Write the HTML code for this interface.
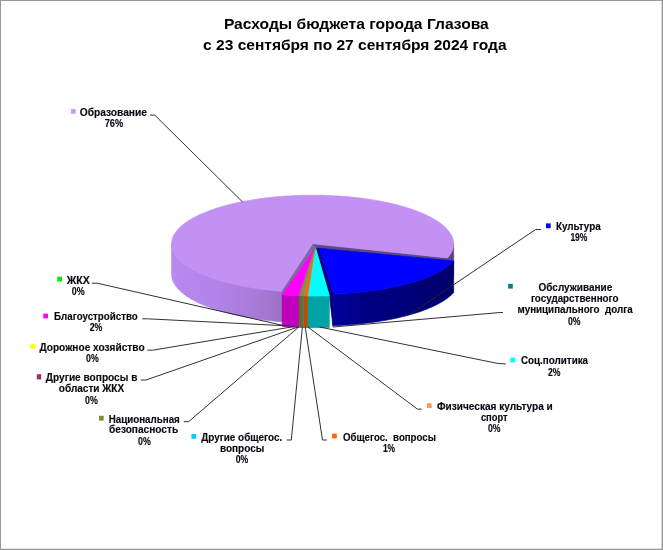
<!DOCTYPE html>
<html lang="ru"><head><meta charset="utf-8"><title>Расходы бюджета города Глазова</title>
<style>
html,body{margin:0;padding:0;background:#fff;}
body{width:663px;height:550px;overflow:hidden;font-family:"Liberation Sans",sans-serif;}
svg{display:block;}
.t{font-family:"Liberation Sans",sans-serif;font-weight:bold;font-size:14.4px;fill:#000;}
.l text{font-family:"Liberation Sans",sans-serif;font-weight:bold;font-size:10px;fill:#0a0a14;stroke:#0a0a14;stroke-width:0.15px;}
.pie path{stroke-width:0.7;stroke-linejoin:round;}
.ld polyline{fill:none;stroke:#262626;stroke-width:0.95;}
</style></head><body>
<svg width="663" height="550" viewBox="0 0 663 550">
<defs>
<linearGradient id="gpw" gradientUnits="userSpaceOnUse" x1="171" y1="0" x2="283" y2="0">
<stop offset="0" stop-color="#b88af0"/><stop offset="0.35" stop-color="#b385ea"/><stop offset="0.75" stop-color="#a87bd8"/><stop offset="1" stop-color="#9c70c4"/>
</linearGradient>
<linearGradient id="gbw" gradientUnits="userSpaceOnUse" x1="330" y1="0" x2="454" y2="0">
<stop offset="0" stop-color="#00009c"/><stop offset="0.3" stop-color="#000084"/><stop offset="1" stop-color="#00006c"/>
</linearGradient>
</defs>
<rect width="663" height="550" fill="#fff"/>
<path d="M0,0H663V550H0Z M1,1V548.7H661.6V1Z" fill="#989898" fill-rule="evenodd"/>
<text class="t" x="223.9" y="28.7" textLength="264.9" lengthAdjust="spacingAndGlyphs">Расходы бюджета города Глазова</text>
<text class="t" x="203.1" y="49.8" textLength="303.5" lengthAdjust="spacingAndGlyphs">с 23 сентября по 27 сентября 2024 года</text>
<g class="pie">
<path d="M312.50,243.80 L320.00,247.20 L316.00,249.50 L313.00,251.00Z" fill="#6a5890" stroke="#6a5890"/>
<path d="M312.50,243.80 L281.36,291.19 L281.36,321.69 L283.00,321.69 L283.00,294.50 L314.20,250.60 L316.00,248.60Z" fill="#7d6a9c" stroke="#7d6a9c"/>
<path d="M312.50,243.80 L447.51,257.93 L454.00,261.50 L319.40,248.50Z" fill="#5e4a80" stroke="#5e4a80"/>
<path d="M281.36,291.19 L278.28,290.94 L275.22,290.66 L272.18,290.36 L269.15,290.04 L266.15,289.69 L263.17,289.32 L260.22,288.92 L257.30,288.51 L254.40,288.07 L251.53,287.60 L248.69,287.12 L245.88,286.62 L243.11,286.09 L240.37,285.54 L237.67,284.97 L235.01,284.38 L232.39,283.77 L229.80,283.14 L227.26,282.49 L224.76,281.82 L222.31,281.13 L219.90,280.42 L217.54,279.69 L215.22,278.95 L212.96,278.19 L210.74,277.41 L208.58,276.61 L206.47,275.80 L204.41,274.97 L202.41,274.12 L200.46,273.26 L198.57,272.38 L196.73,271.49 L194.96,270.59 L193.24,269.67 L191.59,268.74 L189.99,267.80 L188.46,266.85 L186.99,265.88 L185.58,264.90 L184.24,263.91 L182.96,262.91 L181.75,261.91 L180.60,260.89 L179.52,259.86 L178.51,258.83 L177.57,257.79 L176.69,256.74 L175.88,255.68 L175.14,254.62 L174.47,253.56 L173.87,252.48 L173.34,251.41 L172.88,250.33 L172.49,249.25 L172.17,248.16 L171.92,247.07 L171.74,245.98 L171.64,244.89 L171.60,243.80 L171.60,274.30 L171.64,275.39 L171.74,276.48 L171.92,277.57 L172.17,278.66 L172.49,279.75 L172.88,280.83 L173.34,281.91 L173.87,282.98 L174.47,284.06 L175.14,285.12 L175.88,286.18 L176.69,287.24 L177.57,288.29 L178.51,289.33 L179.52,290.36 L180.60,291.39 L181.75,292.41 L182.96,293.41 L184.24,294.41 L185.58,295.40 L186.99,296.38 L188.46,297.35 L189.99,298.30 L191.59,299.24 L193.24,300.17 L194.96,301.09 L196.73,301.99 L198.57,302.88 L200.46,303.76 L202.41,304.62 L204.41,305.47 L206.47,306.30 L208.58,307.11 L210.74,307.91 L212.96,308.69 L215.22,309.45 L217.54,310.19 L219.90,310.92 L222.31,311.63 L224.76,312.32 L227.26,312.99 L229.80,313.64 L232.39,314.27 L235.01,314.88 L237.67,315.47 L240.37,316.04 L243.11,316.59 L245.88,317.12 L248.69,317.62 L251.53,318.10 L254.40,318.57 L257.30,319.01 L260.22,319.42 L263.17,319.82 L266.15,320.19 L269.15,320.54 L272.18,320.86 L275.22,321.16 L278.28,321.44 L281.36,321.69Z" fill="url(#gpw)" stroke="url(#gpw)"/>
<path d="M453.60,243.80 L453.58,244.52 L453.54,245.23 L453.46,245.95 L453.35,246.67 L453.22,247.38 L453.05,248.09 L452.85,248.81 L452.62,249.52 L452.36,250.23 L452.07,250.94 L451.75,251.65 L451.40,252.36 L451.02,253.06 L450.61,253.76 L450.16,254.46 L449.69,255.16 L449.19,255.86 L448.66,256.55 L448.10,257.24 L447.51,257.93 L447.51,288.43 L448.10,287.74 L448.66,287.05 L449.19,286.36 L449.69,285.66 L450.16,284.96 L450.61,284.26 L451.02,283.56 L451.40,282.86 L451.75,282.15 L452.07,281.44 L452.36,280.73 L452.62,280.02 L452.85,279.31 L453.05,278.59 L453.22,277.88 L453.35,277.17 L453.46,276.45 L453.54,275.73 L453.58,275.02 L453.60,274.30 L453.70,261.00Z" fill="#5a4678" stroke="#5a4678"/>
<path d="M312.50,243.80 L281.36,291.19 L278.08,290.92 L274.82,290.62 L271.58,290.30 L268.37,289.95 L265.18,289.57 L262.02,289.17 L258.88,288.74 L255.78,288.28 L252.71,287.80 L249.68,287.29 L246.68,286.76 L243.71,286.20 L240.79,285.62 L237.91,285.02 L235.07,284.39 L232.27,283.74 L229.53,283.07 L226.83,282.37 L224.17,281.65 L221.57,280.92 L219.02,280.15 L216.53,279.37 L214.09,278.57 L211.70,277.75 L209.37,276.91 L207.11,276.05 L204.90,275.17 L202.75,274.27 L200.67,273.36 L198.65,272.42 L196.70,271.48 L194.81,270.51 L192.99,269.54 L191.24,268.54 L189.56,267.53 L187.95,266.51 L186.40,265.48 L184.94,264.43 L183.54,263.37 L182.22,262.30 L180.97,261.22 L179.80,260.13 L178.71,259.03 L177.69,257.93 L176.75,256.81 L175.88,255.69 L175.10,254.56 L174.39,253.42 L173.76,252.28 L173.21,251.13 L172.74,249.98 L172.36,248.82 L172.05,247.67 L171.82,246.51 L171.67,245.35 L171.60,244.18 L171.62,243.02 L171.71,241.86 L171.89,240.70 L172.14,239.54 L172.48,238.38 L172.89,237.23 L173.39,236.08 L173.97,234.93 L174.62,233.79 L175.36,232.66 L176.17,231.53 L177.06,230.41 L178.03,229.30 L179.07,228.19 L180.19,227.09 L181.39,226.01 L182.66,224.93 L184.01,223.86 L185.43,222.81 L186.92,221.77 L188.49,220.74 L190.12,219.72 L191.83,218.72 L193.60,217.73 L195.45,216.76 L197.36,215.80 L199.33,214.86 L201.37,213.93 L203.48,213.02 L205.64,212.13 L207.87,211.26 L210.16,210.41 L212.51,209.57 L214.91,208.75 L217.37,207.96 L219.88,207.18 L222.45,206.43 L225.07,205.70 L227.74,204.99 L230.46,204.30 L233.22,203.63 L236.03,202.99 L238.88,202.37 L241.78,201.77 L244.72,201.20 L247.69,200.66 L250.70,200.13 L253.75,199.64 L256.83,199.16 L259.95,198.72 L263.09,198.29 L266.26,197.90 L269.46,197.53 L272.68,197.19 L275.93,196.87 L279.20,196.58 L282.48,196.32 L285.79,196.09 L289.10,195.88 L292.44,195.70 L295.78,195.55 L299.13,195.42 L302.49,195.33 L305.86,195.26 L309.23,195.21 L312.60,195.20 L315.97,195.21 L319.35,195.26 L322.71,195.33 L326.07,195.42 L329.43,195.55 L332.77,195.70 L336.10,195.88 L339.42,196.09 L342.72,196.32 L346.01,196.58 L349.28,196.87 L352.52,197.19 L355.74,197.53 L358.94,197.90 L362.11,198.30 L365.26,198.72 L368.37,199.16 L371.45,199.64 L374.50,200.13 L377.51,200.66 L380.49,201.20 L383.42,201.78 L386.32,202.37 L389.17,202.99 L391.98,203.63 L394.75,204.30 L397.46,204.99 L400.13,205.70 L402.75,206.43 L405.32,207.19 L407.83,207.96 L410.29,208.76 L412.70,209.57 L415.04,210.41 L417.33,211.26 L419.56,212.13 L421.73,213.02 L423.83,213.93 L425.87,214.86 L427.85,215.80 L429.76,216.76 L431.60,217.73 L433.37,218.72 L435.08,219.72 L436.72,220.74 L438.28,221.77 L439.77,222.81 L441.19,223.87 L442.54,224.93 L443.81,226.01 L445.01,227.10 L446.13,228.19 L447.18,229.30 L448.14,230.41 L449.03,231.53 L449.85,232.66 L450.58,233.79 L451.23,234.94 L451.81,236.08 L452.31,237.23 L452.72,238.38 L453.06,239.54 L453.31,240.70 L453.49,241.86 L453.58,243.02 L453.60,244.19 L453.53,245.35 L453.38,246.51 L453.15,247.67 L452.84,248.83 L452.46,249.98 L451.99,251.13 L451.44,252.28 L450.81,253.42 L450.10,254.56 L449.32,255.69 L448.45,256.81 L447.51,257.93Z" fill="#c291f3" stroke="#c291f3"/>
<path d="M319.20,248.30 L333.36,293.94 L333.66,325.64 L332.90,326.40 L329.50,296.00 L315.90,248.30Z" fill="#000078" stroke="#000078"/>
<path d="M453.63,260.94 L453.01,261.60 L452.37,262.25 L451.69,262.90 L450.99,263.54 L450.26,264.19 L449.50,264.83 L448.71,265.46 L447.89,266.09 L447.05,266.72 L446.18,267.34 L445.28,267.96 L444.35,268.57 L443.40,269.18 L442.42,269.79 L441.42,270.39 L440.39,270.98 L439.33,271.57 L438.25,272.16 L437.14,272.74 L436.00,273.31 L434.84,273.88 L433.66,274.44 L432.45,275.00 L431.22,275.55 L429.96,276.10 L428.68,276.63 L427.38,277.17 L426.05,277.69 L424.70,278.21 L423.33,278.73 L421.93,279.23 L420.51,279.73 L419.07,280.22 L417.61,280.71 L416.13,281.19 L414.63,281.66 L413.10,282.12 L411.56,282.58 L410.00,283.03 L408.41,283.47 L406.81,283.90 L405.19,284.32 L403.55,284.74 L401.89,285.15 L400.22,285.55 L398.53,285.95 L396.82,286.33 L395.09,286.71 L393.35,287.07 L391.59,287.43 L389.81,287.78 L388.02,288.13 L386.22,288.46 L384.40,288.78 L382.57,289.10 L380.72,289.41 L378.86,289.71 L376.99,289.99 L375.10,290.27 L373.20,290.54 L371.29,290.80 L369.37,291.06 L367.44,291.30 L365.50,291.53 L363.55,291.75 L361.59,291.97 L359.62,292.17 L357.64,292.37 L355.65,292.55 L353.66,292.73 L351.65,292.89 L349.64,293.05 L347.63,293.20 L345.60,293.33 L343.57,293.46 L341.54,293.58 L339.50,293.68 L337.46,293.78 L335.41,293.87 L333.36,293.94 L333.36,325.64 L335.41,325.57 L337.46,325.48 L339.50,325.38 L341.54,325.28 L343.57,325.16 L345.60,325.03 L347.63,324.90 L349.64,324.75 L351.65,324.59 L353.66,324.43 L355.65,324.25 L357.64,324.07 L359.62,323.87 L361.59,323.67 L363.55,323.45 L365.50,323.23 L367.44,323.00 L369.37,322.76 L371.29,322.50 L373.20,322.24 L375.10,321.97 L376.99,321.69 L378.86,321.41 L380.72,321.11 L382.57,320.80 L384.40,320.48 L386.22,320.16 L388.02,319.83 L389.81,319.48 L391.59,319.13 L393.35,318.77 L395.09,318.41 L396.82,318.03 L398.53,317.65 L400.22,317.25 L401.89,316.85 L403.55,316.44 L405.19,316.02 L406.81,315.60 L408.41,315.17 L410.00,314.73 L411.56,314.28 L413.10,313.82 L414.63,313.36 L416.13,312.89 L417.61,312.41 L419.07,311.92 L420.51,311.43 L421.93,310.93 L423.33,310.43 L424.70,309.91 L426.05,309.39 L427.38,308.87 L428.68,308.33 L429.96,307.80 L431.22,307.25 L432.45,306.70 L433.66,306.14 L434.84,305.58 L436.00,305.01 L437.14,304.44 L438.25,303.86 L439.33,303.27 L440.39,302.68 L441.42,302.09 L442.42,301.49 L443.40,300.88 L444.35,300.27 L445.28,299.66 L446.18,299.04 L447.05,298.42 L447.89,297.79 L448.71,297.16 L449.50,296.53 L450.26,295.89 L450.99,295.24 L451.69,294.60 L452.37,293.95 L453.01,293.30 L453.63,292.64Z" fill="url(#gbw)" stroke="url(#gbw)"/>
<path d="M319.20,248.30 L453.63,260.94 L453.01,261.60 L452.37,262.25 L451.69,262.90 L450.99,263.54 L450.26,264.19 L449.50,264.83 L448.71,265.46 L447.89,266.09 L447.05,266.72 L446.18,267.34 L445.28,267.96 L444.35,268.57 L443.40,269.18 L442.42,269.79 L441.42,270.39 L440.39,270.98 L439.33,271.57 L438.25,272.16 L437.14,272.74 L436.00,273.31 L434.84,273.88 L433.66,274.44 L432.45,275.00 L431.22,275.55 L429.96,276.10 L428.68,276.63 L427.38,277.17 L426.05,277.69 L424.70,278.21 L423.33,278.73 L421.93,279.23 L420.51,279.73 L419.07,280.22 L417.61,280.71 L416.13,281.19 L414.63,281.66 L413.10,282.12 L411.56,282.58 L410.00,283.03 L408.41,283.47 L406.81,283.90 L405.19,284.32 L403.55,284.74 L401.89,285.15 L400.22,285.55 L398.53,285.95 L396.82,286.33 L395.09,286.71 L393.35,287.07 L391.59,287.43 L389.81,287.78 L388.02,288.13 L386.22,288.46 L384.40,288.78 L382.57,289.10 L380.72,289.41 L378.86,289.71 L376.99,289.99 L375.10,290.27 L373.20,290.54 L371.29,290.80 L369.37,291.06 L367.44,291.30 L365.50,291.53 L363.55,291.75 L361.59,291.97 L359.62,292.17 L357.64,292.37 L355.65,292.55 L353.66,292.73 L351.65,292.89 L349.64,293.05 L347.63,293.20 L345.60,293.33 L343.57,293.46 L341.54,293.58 L339.50,293.68 L337.46,293.78 L335.41,293.87 L333.36,293.94Z" fill="#0000fe" stroke="#0000fe"/>
<path d="M329.30,295.76 L327.49,295.81 L325.68,295.86 L323.86,295.91 L322.05,295.94 L320.23,295.97 L318.41,295.99 L316.59,296.00 L314.77,296.00 L312.95,296.00 L311.13,295.98 L309.32,295.96 L307.50,295.93 L307.50,327.63 L309.32,327.66 L311.13,327.68 L312.95,327.70 L314.77,327.70 L316.59,327.70 L318.41,327.69 L320.23,327.67 L322.05,327.64 L323.86,327.61 L325.68,327.56 L327.49,327.51 L329.30,327.46Z" fill="#00a3a3" stroke="#00a3a3"/>
<path d="M315.70,248.30 L329.30,295.76 L327.49,295.81 L325.68,295.86 L323.86,295.91 L322.05,295.94 L320.23,295.97 L318.41,295.99 L316.59,296.00 L314.77,296.00 L312.95,296.00 L311.13,295.98 L309.32,295.96 L307.50,295.93Z" fill="#00ffff" stroke="#00ffff"/>
<path d="M307.50,295.93 L307.18,295.93 L306.87,295.92 L306.55,295.91 L306.23,295.91 L305.92,295.90 L305.60,295.89 L305.28,295.89 L304.97,295.88 L304.65,295.87 L304.33,295.86 L304.02,295.86 L303.70,295.85 L303.70,327.55 L304.02,327.56 L304.33,327.56 L304.65,327.57 L304.97,327.58 L305.28,327.59 L305.60,327.59 L305.92,327.60 L306.23,327.61 L306.55,327.61 L306.87,327.62 L307.18,327.63 L307.50,327.63Z" fill="#bf4d00" stroke="#bf4d00"/>
<path d="M315.00,249.20 L307.50,295.93 L307.18,295.93 L306.87,295.92 L306.55,295.91 L306.23,295.91 L305.92,295.90 L305.60,295.89 L305.28,295.89 L304.97,295.88 L304.65,295.87 L304.33,295.86 L304.02,295.86 L303.70,295.85Z" fill="#ff6600" stroke="#ff6600"/>
<path d="M303.70,295.85 L303.48,295.84 L303.27,295.84 L303.05,295.83 L302.83,295.82 L302.62,295.82 L302.40,295.81 L302.18,295.80 L301.97,295.80 L301.75,295.79 L301.53,295.78 L301.32,295.78 L301.10,295.77 L301.10,327.47 L301.32,327.48 L301.53,327.48 L301.75,327.49 L301.97,327.50 L302.18,327.50 L302.40,327.51 L302.62,327.52 L302.83,327.52 L303.05,327.53 L303.27,327.54 L303.48,327.54 L303.70,327.55Z" fill="#5f7050" stroke="#5f7050"/>
<path d="M314.70,249.50 L303.70,295.85 L303.48,295.84 L303.27,295.84 L303.05,295.83 L302.83,295.82 L302.62,295.82 L302.40,295.81 L302.18,295.80 L301.97,295.80 L301.75,295.79 L301.53,295.78 L301.32,295.78 L301.10,295.77Z" fill="#7f8f6a" stroke="#7f8f6a"/>
<path d="M301.10,295.77 L300.88,295.76 L300.67,295.75 L300.45,295.75 L300.23,295.74 L300.02,295.73 L299.80,295.72 L299.58,295.72 L299.37,295.71 L299.15,295.70 L298.93,295.69 L298.72,295.68 L298.50,295.67 L298.50,327.37 L298.72,327.38 L298.93,327.39 L299.15,327.40 L299.37,327.41 L299.58,327.42 L299.80,327.42 L300.02,327.43 L300.23,327.44 L300.45,327.45 L300.67,327.45 L300.88,327.46 L301.10,327.47Z" fill="#607018" stroke="#607018"/>
<path d="M314.50,249.70 L301.10,295.77 L300.88,295.76 L300.67,295.75 L300.45,295.75 L300.23,295.74 L300.02,295.73 L299.80,295.72 L299.58,295.72 L299.37,295.71 L299.15,295.70 L298.93,295.69 L298.72,295.68 L298.50,295.67Z" fill="#809020" stroke="#809020"/>
<path d="M298.50,295.67 L297.13,295.62 L295.76,295.56 L294.39,295.49 L293.03,295.42 L291.67,295.35 L290.31,295.27 L288.95,295.18 L287.59,295.10 L286.24,295.00 L284.89,294.91 L283.54,294.81 L282.20,294.70 L282.20,326.40 L283.54,326.51 L284.89,326.61 L286.24,326.70 L287.59,326.80 L288.95,326.88 L290.31,326.97 L291.67,327.05 L293.03,327.12 L294.39,327.19 L295.76,327.26 L297.13,327.32 L298.50,327.37Z" fill="#bf00bf" stroke="#bf00bf"/>
<path d="M313.80,250.20 L298.50,295.67 L297.13,295.62 L295.76,295.56 L294.39,295.49 L293.03,295.42 L291.67,295.35 L290.31,295.27 L288.95,295.18 L287.59,295.10 L286.24,295.00 L284.89,294.91 L283.54,294.81 L282.20,294.70Z" fill="#ff00ff" stroke="#ff00ff"/>
</g>
<g class="ld">
<polyline points="149.8,115.0 154.8,115.2 242.6,202.0"/>
<polyline points="541.0,229.5 535.6,229.5 409.0,314.8"/>
<polyline points="503.0,312.5 499.0,312.6 333.0,327.0"/>
<polyline points="505.8,363.9 498.0,363.5 319.6,327.0"/>
<polyline points="421.7,409.1 417.4,409.1 307.9,327.0"/>
<polyline points="326.8,440.0 322.5,440.0 305.2,327.0"/>
<polyline points="286.8,440.0 291.3,440.0 302.4,327.0"/>
<polyline points="183.8,421.7 188.6,421.7 298.8,327.0"/>
<polyline points="140.7,380.0 146.0,380.0 298.0,327.0"/>
<polyline points="147.4,350.2 152.7,350.2 294.3,326.5"/>
<polyline points="142.3,318.8 147.3,318.8 290.0,326.0"/>
<polyline points="91.9,283.2 97.2,283.2 282.5,325.3"/>
</g>
<g class="l">
<rect x="71.0" y="109.0" width="4.7" height="4.8" fill="#cc99ff"/>
<text x="79.7" y="115.7" textLength="67.3" lengthAdjust="spacingAndGlyphs">Образование</text>
<text x="104.7" y="126.7" textLength="18.4" lengthAdjust="spacingAndGlyphs">76%</text>
<rect x="546.0" y="223.4" width="4.7" height="4.8" fill="#0000ff"/>
<text x="555.9" y="230.2" textLength="44.8" lengthAdjust="spacingAndGlyphs">Культура</text>
<text x="570.4" y="241.4" textLength="17.0" lengthAdjust="spacingAndGlyphs">19%</text>
<rect x="508.1" y="283.8" width="4.7" height="4.8" fill="#008080"/>
<text x="538.6" y="291.2" textLength="73.6" lengthAdjust="spacingAndGlyphs">Обслуживание</text>
<text x="530.9" y="301.6" textLength="87.7" lengthAdjust="spacingAndGlyphs">государственного</text>
<text x="517.6" y="312.6" textLength="115.1" lengthAdjust="spacingAndGlyphs">муниципального&#160;&#160;долга</text>
<text x="568.0" y="324.8" textLength="12.5" lengthAdjust="spacingAndGlyphs">0%</text>
<rect x="510.4" y="357.6" width="4.7" height="4.8" fill="#00ffff"/>
<text x="520.9" y="364.3" textLength="67.2" lengthAdjust="spacingAndGlyphs">Соц.политика</text>
<text x="547.9" y="375.5" textLength="12.5" lengthAdjust="spacingAndGlyphs">2%</text>
<rect x="427.0" y="403.2" width="4.7" height="4.8" fill="#ff9950"/>
<text x="437.0" y="409.9" textLength="115.8" lengthAdjust="spacingAndGlyphs">Физическая культура и</text>
<text x="480.9" y="420.8" textLength="26.8" lengthAdjust="spacingAndGlyphs">спорт</text>
<text x="488.0" y="432.4" textLength="12.5" lengthAdjust="spacingAndGlyphs">0%</text>
<rect x="332.1" y="433.6" width="4.7" height="4.8" fill="#ff6600"/>
<text x="343.0" y="441.2" textLength="92.9" lengthAdjust="spacingAndGlyphs">Общегос.&#160;&#160;вопросы</text>
<text x="382.9" y="451.9" textLength="12.2" lengthAdjust="spacingAndGlyphs">1%</text>
<rect x="191.4" y="434.0" width="4.7" height="4.8" fill="#00ccff"/>
<text x="201.2" y="441.2" textLength="81.1" lengthAdjust="spacingAndGlyphs">Другие общегос.</text>
<text x="220.0" y="451.9" textLength="44.2" lengthAdjust="spacingAndGlyphs">вопросы</text>
<text x="235.7" y="463.2" textLength="12.5" lengthAdjust="spacingAndGlyphs">0%</text>
<rect x="99.0" y="415.8" width="4.7" height="4.8" fill="#7a9030"/>
<text x="108.7" y="422.5" textLength="71.1" lengthAdjust="spacingAndGlyphs">Национальная</text>
<text x="109.1" y="433.3" textLength="69.0" lengthAdjust="spacingAndGlyphs">безопасность</text>
<text x="138.1" y="445.2" textLength="12.7" lengthAdjust="spacingAndGlyphs">0%</text>
<rect x="36.8" y="374.2" width="4.4" height="5.2" fill="#993366"/>
<text x="45.8" y="381.2" textLength="91.6" lengthAdjust="spacingAndGlyphs">Другие вопросы в</text>
<text x="58.8" y="392.1" textLength="65.4" lengthAdjust="spacingAndGlyphs">области ЖКХ</text>
<text x="85.1" y="403.6" textLength="12.7" lengthAdjust="spacingAndGlyphs">0%</text>
<rect x="30.1" y="344.3" width="5.4" height="4.2" fill="#ffff00"/>
<text x="39.4" y="350.7" textLength="105.2" lengthAdjust="spacingAndGlyphs">Дорожное хозяйство</text>
<text x="86.1" y="361.9" textLength="12.7" lengthAdjust="spacingAndGlyphs">0%</text>
<rect x="43.3" y="313.6" width="4.7" height="4.8" fill="#ff00ff"/>
<text x="54.1" y="320.0" textLength="83.7" lengthAdjust="spacingAndGlyphs">Благоустройство</text>
<text x="89.7" y="331.3" textLength="12.7" lengthAdjust="spacingAndGlyphs">2%</text>
<rect x="57.3" y="276.7" width="4.7" height="4.8" fill="#00ee00"/>
<text x="66.7" y="283.6" textLength="23.0" lengthAdjust="spacingAndGlyphs">ЖКХ</text>
<text x="71.7" y="295.2" textLength="12.9" lengthAdjust="spacingAndGlyphs">0%</text>
</g>
</svg>
</body></html>
